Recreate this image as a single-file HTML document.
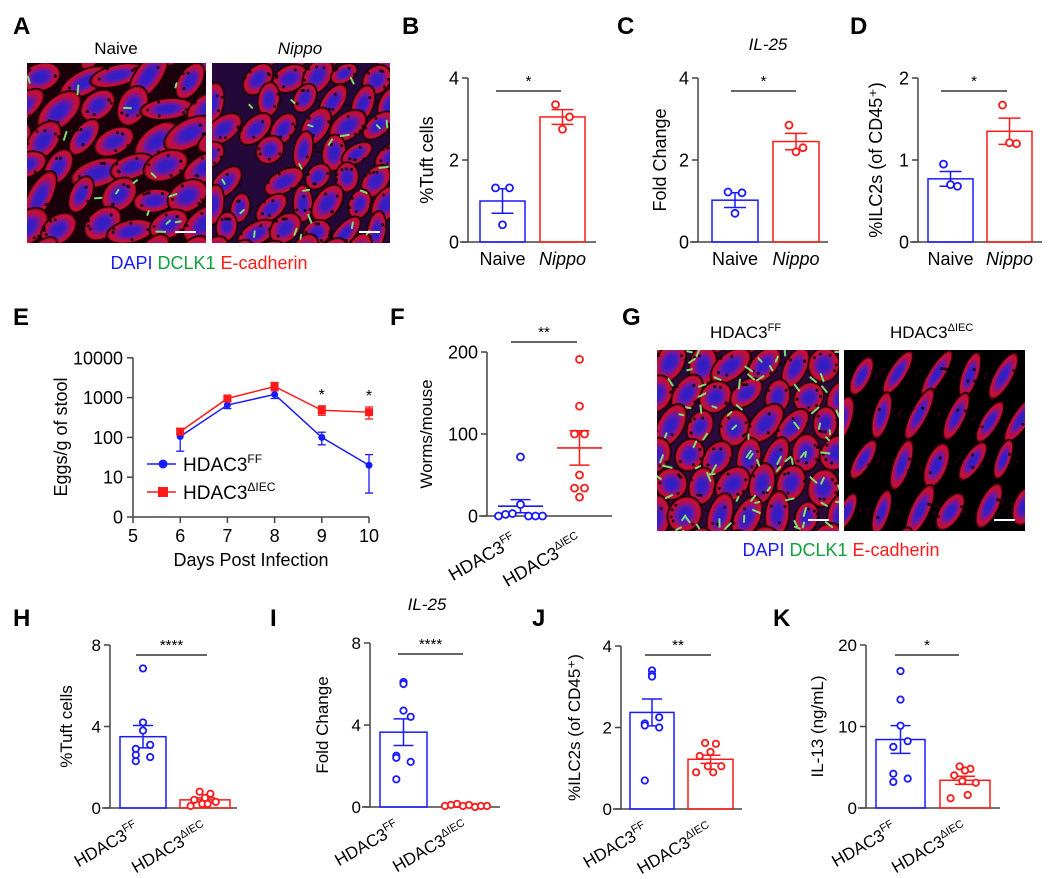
<!DOCTYPE html>
<html><head><meta charset="utf-8">
<style>
html,body{margin:0;padding:0;background:#fff;}
svg{display:block;font-family:"Liberation Sans",Arial,sans-serif;}
</style></head>
<body>
<svg id="fig" width="1050" height="879" viewBox="0 0 1050 879" xmlns="http://www.w3.org/2000/svg">
<defs>
<radialGradient id="villus" cx="50%" cy="50%" r="50%">
<stop offset="0%" stop-color="#2a20c8"/>
<stop offset="30%" stop-color="#3a1cc0"/>
<stop offset="50%" stop-color="#6a18a8"/>
<stop offset="68%" stop-color="#b01050"/>
<stop offset="86%" stop-color="#c81030"/>
<stop offset="100%" stop-color="#500012"/>
</radialGradient>
</defs>
</svg>
<script>
// ===== Data =====
const eDays=[6,7,8,9,10];
const eFF=[105,650,1200,100,20];
const eFFLo=[45,530,950,65,4];
const eFFHi=[160,800,1500,135,37];
const eIEC=[140,950,1900,480,430];
const eIECLo=[120,830,1500,360,290];
const eIECHi=[165,1050,2400,620,580];
const eYTicks=[0,10,100,1000,10000];
const eXTicks=[5,6,7,8,9,10];
const eSigDays=[9,10];
const bCats=['Naive','Nippo'];
const bMeans=[1.0,3.05];
const bSem=[0.3,0.18];
const bPtsA=[1.32,1.32,0.42];
const bPtsB=[3.35,3.05,2.75];
const cMeans=[1.02,2.45];
const cSem=[0.18,0.2];
const cPtsA=[1.22,1.2,0.7];
const cPtsB=[2.85,2.3,2.2];
const dMeans=[0.77,1.35];
const dSem=[0.09,0.16];
const dPtsA=[0.95,0.68,0.7];
const dPtsB=[1.67,1.2,1.21];
const fMeans=[12,83];
const fSem=[8,21];
const fPtsA=[72,14,2,3,0,0,0,0];
const fPtsB=[191,134,100,100,50,34,34,23];
const hMeans=[3.5,0.4];
const hSem=[0.55,0.1];
const hPtsA=[6.85,4.2,3.8,3.1,2.9,2.6,2.5,2.3];
const hPtsB=[0.8,0.7,0.5,0.4,0.3,0.2,0.2,0.1];
const iMeans=[3.65,0.05];
const iSem=[0.65,0.02];
const iPtsA=[6.1,6.0,4.7,4.4,2.5,2.4,2.2,1.35];
const iPtsB=[0.05,0.1,0.15,0.05,0.1,0.0,0.05,0.05];
const jMeans=[2.37,1.22];
const jSem=[0.33,0.1];
const jPtsA=[3.4,3.3,3.25,2.25,2.1,2.05,2.0,0.7];
const jPtsB=[1.62,1.6,1.4,1.3,1.05,1.05,0.9,0.9];
const kMeans=[8.4,3.4];
const kSem=[1.7,0.5];
const kPtsA=[16.8,13.3,10.1,8.2,7.5,4.2,3.6,3.2];
const kPtsB=[5.1,4.8,4.6,4.0,3.1,3.3,1.6,1.2];
const gCats=['HDAC3','HDAC3'];
const gSups=['FF','\u0394IEC'];

// ===== Helpers =====
const NS='http://www.w3.org/2000/svg';
const svg=document.getElementById('fig');
function mk(parent,tag,attrs,name,inter){
  const el=document.createElementNS(NS,tag);
  for(const k in attrs) el.setAttribute(k,attrs[k]);
  if(name){
    
    
  }
  parent.appendChild(el);
  return el;
}
function txt(parent,x,y,s,size,name,extra){
  const a=Object.assign({x:x,y:y,'font-size':size,fill:'#000'},extra||{});
  const t=mk(parent,'text',a,name,false);
  t.textContent=s;
  return t;
}
function supText(parent,x,y,base,sup,size,name,extra){
  const a=Object.assign({x:x,y:y,'font-size':size,fill:'#000'},extra||{});
  const t=mk(parent,'text',a,name,false);
  const t1=document.createElementNS(NS,'tspan'); t1.textContent=base; t.appendChild(t1);
  const t2=document.createElementNS(NS,'tspan'); t2.textContent=sup;
  t2.setAttribute('font-size',Math.round(size*0.62)); t2.setAttribute('dy',-size*0.42);
  t.appendChild(t2);
  return t;
}
function letter(x,y,s){ txt(svg,x,y,s,24,'panel-label-'+s.toLowerCase(),{'font-weight':'bold'}); }

// ===== Micrographs =====
function rng(seed){return function(){seed|=0;seed=seed+0x6D2B79F5|0;let t=Math.imul(seed^seed>>>15,1|seed);t=t+Math.imul(t^t>>>7,61|t)^t;return((t^t>>>14)>>>0)/4294967296;};}
let clipN=0;
function tissue(x,y,w,h,o,name){
  const g=mk(svg,'g',{},name,false);
  const id='clip'+(clipN++);
  const cp=mk(svg.querySelector('defs'),'clipPath',{id:id});
  mk(cp,'rect',{x:x,y:y,width:w,height:h});
  const gi=mk(g,'g',{'clip-path':'url(#'+id+')'});
  mk(gi,'rect',{x:x,y:y,width:w,height:h,fill:o.bg});
  const R=rng(o.seed);
  const cols=o.cols, rows=o.rows;
  for(let r=-1;r<=rows;r++){for(let c=-1;c<=cols;c++){
    const cx=x+(c+0.5+(r%2)*0.5)*w/cols+(R()-0.5)*o.jit;
    const cy=y+(r+0.5)*h/rows+(R()-0.5)*o.jit;
    if(o.skip && o.skip(cx-x,cy-y)) continue;
    const rx=o.rx*(0.8+R()*0.4), ry=o.ry*(0.8+R()*0.4);
    const rot=o.rot+(R()-0.5)*o.rotVar;
    mk(gi,'ellipse',{cx:cx,cy:cy,rx:rx,ry:ry,fill:'url(#villus)',stroke:'#200008','stroke-width':1.5,transform:'rotate('+rot+' '+cx+' '+cy+')'});
    for(let k=0;k<5;k++){
      const a=R()*6.283;
      mk(gi,'circle',{cx:cx+Math.cos(a)*rx*0.72,cy:cy+Math.sin(a)*ry*0.72,r:1.5,fill:'#200010'});
    }
  }}
  for(let k=0;k<o.green;k++){
    const gx=x+R()*w, gy=y+R()*h;
    if(o.skip && o.skip(gx-x,gy-y)) continue;
    const a=R()*180, L=4+R()*5;
    mk(gi,'line',{x1:gx,y1:gy,x2:gx+Math.cos(a)*L,y2:gy+Math.sin(a)*L,stroke:'#7ee070','stroke-width':2,'stroke-linecap':'round'});
  }
  mk(g,'line',{x1:x+w-31,y1:y+h-11,x2:x+w-10,y2:y+h-11,stroke:'#fff','stroke-width':2},name+'-scale-bar',false);
}
function stainLegend(cx,y,name){
  const t=mk(svg,'text',{x:cx,y:y,'font-size':18,'text-anchor':'middle'},name,false);
  [['DAPI ','#1a1aff'],['DCLK1 ','#10a040'],['E-cadherin','#ff1a1a']].forEach(p=>{
    const s=document.createElementNS(NS,'tspan'); s.textContent=p[0]; s.setAttribute('fill',p[1]); t.appendChild(s);
  });
}

letter(13,34,'A');
txt(svg,116,54,'Naive',17,'naive-image-title',{'text-anchor':'middle'});
txt(svg,300,54,'Nippo',17,'nippo-image-title',{'text-anchor':'middle','font-style':'italic'});
tissue(27,63,179,180,{seed:3,bg:'#1a0008',cols:5,rows:6,rx:24,ry:13,rot:-35,rotVar:60,jit:10,green:14},'naive-micrograph');
tissue(212,63,178,180,{seed:7,bg:'#24083a',cols:6,rows:7,rx:18,ry:11,rot:-60,rotVar:70,jit:8,green:24,
  skip:(u,v)=> (u<45 && v<40) || (u>20&&u<60&&v>55&&v<120&&u<v*0.5+10)},'nippo-micrograph');
stainLegend(209,269,'stain-legend-a');

letter(622,325,'G');
supText(svg,710,338,'HDAC3','FF',17,'hdac3ff-image-title',{'text-anchor':'start'});
supText(svg,890,338,'HDAC3','\u0394IEC',17,'hdac3iec-image-title',{'text-anchor':'start'});
tissue(657,350,182,181,{seed:11,bg:'#2a0a3a',cols:6,rows:6,rx:20,ry:14,rot:-60,rotVar:50,jit:6,green:80},'hdac3ff-micrograph');
tissue(844,350,181,181,{seed:19,bg:'#000000',cols:5,rows:4,rx:24,ry:9,rot:-65,rotVar:20,jit:8,green:0},'hdac3iec-micrograph');
stainLegend(841,556,'stain-legend-g');

// offsets (styling only) for point jitter
const jitA8=[0,0,0,8,-8,-8,8,-8];
const jitB8=[-6,6,0,-12,12,-3,3,-16];
function panel(cfg){
  const g=mk(svg,'g',{},cfg.name,false);
  const ys=v=>cfg.y0-(v/cfg.yMax)*(cfg.y0-cfg.yTop);
  mk(g,'line',{x1:cfg.axX,y1:cfg.yTop,x2:cfg.axX,y2:cfg.y0,stroke:'#444','stroke-width':1.5},'y-axis',false);
  mk(g,'line',{x1:cfg.axX-8,y1:cfg.y0,x2:cfg.xEnd,y2:cfg.y0,stroke:'#444','stroke-width':1.5},'x-axis',false);
  cfg.ticks.forEach(t=>{
    mk(g,'line',{x1:cfg.axX-6,y1:ys(t),x2:cfg.axX,y2:ys(t),stroke:'#444','stroke-width':1.5},'y-tick',false);
    txt(g,cfg.axX-9,ys(t)+cfg.tf*0.36,String(t),cfg.tf,'y-tick-label',{'text-anchor':'end'});
  });
  const cx0=(cfg.ylx), cy0=(cfg.y0+cfg.yTop)/2;
  txt(g,cx0,cy0,cfg.ylabel,cfg.lf,'y-axis-title',{'text-anchor':'middle',transform:'rotate(-90 '+cx0+' '+cy0+')'});
  const colors=['#1a1aff','#ff1a1a'];
  const pts=[cfg.ptsA,cfg.ptsB];
  cfg.bars.forEach((b,i)=>{
    const cx=(b[0]+b[1])/2;
    const m=cfg.means[i], s=cfg.sem[i];
    if(!cfg.scatter){
      mk(g,'rect',{x:b[0],y:ys(m),width:b[1]-b[0],height:cfg.y0-ys(m),fill:'none',stroke:colors[i],'stroke-width':1.5},'bar-'+(i?'group2':'group1'),false);
    } else {
      mk(g,'line',{x1:b[0],y1:ys(m),x2:b[1],y2:ys(m),stroke:colors[i],'stroke-width':1.6},'mean-line-'+(i?'group2':'group1'),false);
    }
    const cw=cfg.cap;
    mk(g,'line',{x1:cx,y1:ys(m-s),x2:cx,y2:ys(m+s),stroke:colors[i],'stroke-width':1.5},'error-bar',false);
    mk(g,'line',{x1:cx-cw,y1:ys(m+s),x2:cx+cw,y2:ys(m+s),stroke:colors[i],'stroke-width':1.5},'error-cap',false);
    mk(g,'line',{x1:cx-cw,y1:ys(m-s),x2:cx+cw,y2:ys(m-s),stroke:colors[i],'stroke-width':1.5},'error-cap',false);
    const p=pts[i], n=p.length;
    p.forEach((v,k)=>{
      let off;
      if(n===3) off=[-7,7,0][k];
      else if(cfg.jit && cfg.jit[i]) off=cfg.jit[i][k%8];
      else if(cfg.spreadB && i===1) off=(k-(n-1)/2)*cfg.spreadB;
      else off=(i===0?jitA8:jitB8)[k%8]*cfg.jscale;
      mk(g,'circle',{cx:cx+off,cy:ys(v),r:cfg.pr,fill:'#fff',stroke:colors[i],'stroke-width':1.8},'data-point',false);
    });
    if(cfg.catMode==='top'){
      txt(g,cx,cfg.y0+23,cfg.cats[i],cfg.cf,'x-category-label',{'text-anchor':'middle','font-style':i?'italic':'normal'});
    } else {
      const ax=cx+(i?3:-3), ay=cfg.y0+cfg.labDy;
      supText(g,ax,ay,gCats[i],gSups[i],cfg.cf,'x-category-label',{'text-anchor':'end',transform:'rotate(-30 '+ax+' '+ay+')'});
    }
  });
  mk(g,'line',{x1:cfg.sig[0],y1:cfg.sig[2],x2:cfg.sig[1],y2:cfg.sig[2],stroke:'#333','stroke-width':1.6},'significance-bar',false);
  txt(g,(cfg.sig[0]+cfg.sig[1])/2,cfg.sig[2]-5,cfg.stars,15,'significance-stars',{'text-anchor':'middle'});
  return g;
}

letter(402,34,'B'); letter(617,34,'C'); letter(850,34,'D');
txt(svg,768,50,'IL-25',17,'panel-c-title',{'text-anchor':'middle','font-style':'italic'});
const topBase={y0:242,yTop:78,tf:18,lf:18,cf:18,catMode:'top',cats:bCats,cap:11,pr:3.5,jscale:1};
panel(Object.assign({},topBase,{name:'panel-b-tuft-cells',axX:468,yMax:4,ticks:[0,2,4],bars:[[480,525],[540,585]],xEnd:596,
  means:bMeans,sem:bSem,ptsA:bPtsA,ptsB:bPtsB,ylabel:'%Tuft cells',ylx:433,sig:[496,561,91],stars:'*'}));
panel(Object.assign({},topBase,{name:'panel-c-il25',axX:698,yMax:4,ticks:[0,2,4],bars:[[712,758],[773,819]],xEnd:828,
  means:cMeans,sem:cSem,ptsA:cPtsA,ptsB:cPtsB,ylabel:'Fold Change',ylx:666,sig:[731,796,91],stars:'*'}));
panel(Object.assign({},topBase,{name:'panel-d-ilc2',axX:918,yMax:2,ticks:[0,1,2],bars:[[928,973],[987,1032]],xEnd:1042,
  means:dMeans,sem:dSem,ptsA:dPtsA,ptsB:dPtsB,ylabel:'%ILC2s (of CD45\u207A)',ylx:882,sig:[941,1007,91],stars:'*'}));

letter(390,325,'F');
panel({name:'panel-f-worms',axX:487,y0:516,yTop:352,yMax:200,ticks:[0,100,200],bars:[[498,543],[557,602]],xEnd:612,
  means:fMeans,sem:fSem,ptsA:fPtsA,ptsB:fPtsB,ylabel:'Worms/mouse',ylx:432,sig:[511,577,342],stars:'**',
  tf:18,lf:17,cf:18,catMode:'rot',labDy:28,cap:10,pr:3.5,scatter:true,jscale:0.8,
  jit:[[0,0,-15,-8,-22,8,15,22],[0,0,-5,5,0,-5,5,0]]});

const botBase={tf:17,lf:17,cf:17,catMode:'rot',labDy:24,cap:10,pr:3.2,jscale:0.9};
letter(13,626,'H'); letter(270,626,'I'); letter(532,626,'J'); letter(773,626,'K');
txt(svg,427,610,'IL-25',17,'panel-i-title',{'text-anchor':'middle','font-style':'italic'});
panel(Object.assign({},botBase,{name:'panel-h-tuft-cells',axX:110,y0:808,yTop:645,yMax:8,ticks:[0,4,8],bars:[[120,166],[180,230]],xEnd:237,
  means:hMeans,sem:hSem,ptsA:hPtsA,ptsB:hPtsB,ylabel:'%Tuft cells',ylx:72,sig:[136,207,655],stars:'****'}));
panel(Object.assign({},botBase,{name:'panel-i-il25',axX:370,y0:807,yTop:643,yMax:8,ticks:[0,4,8],bars:[[380,427],[442,490]],xEnd:500,
  means:iMeans,sem:iSem,ptsA:iPtsA,ptsB:iPtsB,ylabel:'Fold Change',ylx:328,sig:[398,463,654],stars:'****',spreadB:6}));
panel(Object.assign({},botBase,{name:'panel-j-ilc2',axX:621,y0:809,yTop:646,yMax:4,ticks:[0,2,4],bars:[[630,674],[688,733]],xEnd:742,
  means:jMeans,sem:jSem,ptsA:jPtsA,ptsB:jPtsB,ylabel:'%ILC2s (of CD45\u207A)',ylx:580,sig:[645,711,655],stars:'**'}));
panel(Object.assign({},botBase,{name:'panel-k-il13',axX:866,y0:808,yTop:645,yMax:20,ticks:[0,10,20],bars:[[876,925],[940,990]],xEnd:1000,
  means:kMeans,sem:kSem,ptsA:kPtsA,ptsB:kPtsB,ylabel:'IL-13 (ng/mL)',ylx:823,sig:[895,959,655],stars:'*'}));

letter(13,325,'E');
(function(){
  const g=mk(svg,'g',{},'panel-e-egg-counts',false);
  const axX=133, y0=517, dec=39.8;
  const xs=d=>axX+(d-5)*47.2;
  const ys=v=>y0-Math.log10(Math.max(v,1))*dec;
  mk(g,'line',{x1:axX,y1:ys(10000),x2:axX,y2:y0,stroke:'#444','stroke-width':1.5},'y-axis',false);
  mk(g,'line',{x1:axX,y1:y0,x2:xs(10),y2:y0,stroke:'#444','stroke-width':1.5},'x-axis',false);
  eYTicks.forEach(t=>{
    mk(g,'line',{x1:axX-6,y1:ys(t),x2:axX,y2:ys(t),stroke:'#444','stroke-width':1.5},'y-tick',false);
    txt(g,axX-10,ys(t)+6.5,String(t),18,'y-tick-label',{'text-anchor':'end'});
  });
  eXTicks.forEach(t=>{
    mk(g,'line',{x1:xs(t),y1:y0,x2:xs(t),y2:y0+6,stroke:'#444','stroke-width':1.5},'x-tick',false);
    txt(g,xs(t),y0+25,String(t),18,'x-tick-label',{'text-anchor':'middle'});
  });
  txt(g,xs(7.5),566,'Days Post Infection',18,'x-axis-title',{'text-anchor':'middle'});
  txt(g,67,437,'Eggs/g of stool',18,'y-axis-title',{'text-anchor':'middle',transform:'rotate(-90 67 437)'});
  const series=[[eFF,eFFLo,eFFHi,'#1a1aff','circle','series-hdac3ff'],[eIEC,eIECLo,eIECHi,'#ff1a1a','square','series-hdac3iec']];
  series.forEach(s=>{
    const pts=eDays.map((d,i)=>xs(d)+','+ys(s[0][i])).join(' ');
    mk(g,'polyline',{points:pts,fill:'none',stroke:s[3],'stroke-width':1.5},s[5]+'-line',false);
    eDays.forEach((d,i)=>{
      const x=xs(d);
      mk(g,'line',{x1:x,y1:ys(s[1][i]),x2:x,y2:ys(s[2][i]),stroke:s[3],'stroke-width':1.3},'error-bar',false);
      mk(g,'line',{x1:x-4,y1:ys(s[1][i]),x2:x+4,y2:ys(s[1][i]),stroke:s[3],'stroke-width':1.3},'error-cap',false);
      mk(g,'line',{x1:x-4,y1:ys(s[2][i]),x2:x+4,y2:ys(s[2][i]),stroke:s[3],'stroke-width':1.3},'error-cap',false);
      if(s[4]==='circle') mk(g,'circle',{cx:x,cy:ys(s[0][i]),r:3.5,fill:s[3]},'data-point',false);
      else mk(g,'rect',{x:x-4,y:ys(s[0][i])-4,width:8,height:8,fill:s[3]},'data-point',false);
    });
  });
  eSigDays.forEach(d=>{
    const i=eDays.indexOf(d);
    txt(g,xs(d),ys(eIECHi[i])-6,'*',16,'significance-star',{'text-anchor':'middle'});
  });
  mk(g,'line',{x1:147,y1:464,x2:176,y2:464,stroke:'#1a1aff','stroke-width':1.5},'legend-line-hdac3ff',false);
  mk(g,'circle',{cx:163,cy:464,r:4.5,fill:'#1a1aff'},'legend-marker-hdac3ff',false);
  supText(g,183,471,'HDAC3','FF',19,'legend-label-hdac3ff');
  mk(g,'line',{x1:147,y1:492,x2:176,y2:492,stroke:'#ff1a1a','stroke-width':1.5},'legend-line-hdac3iec',false);
  mk(g,'rect',{x:158,y:487,width:10,height:10,fill:'#ff1a1a'},'legend-marker-hdac3iec',false);
  supText(g,183,499,'HDAC3','\u0394IEC',19,'legend-label-hdac3iec');
})();
</script>
</body></html>
